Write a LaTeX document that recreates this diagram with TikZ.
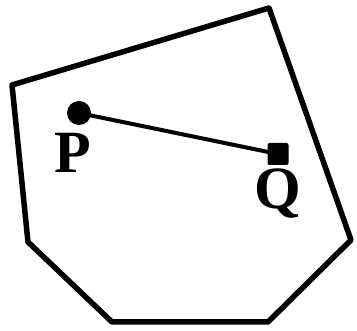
\documentclass[tikz,border=0pt]{standalone}
\usepackage{fontspec}
\setmainfont{Liberation Serif}
\begin{document}
\begin{tikzpicture}[x=1pt,y=-1pt,
  edge/.style={line width=5.5pt,line join=round,line cap=round},
  seg/.style={line width=4pt},
  lbl/.style={font=\fontsize{60}{60}\selectfont\bfseries,inner sep=0pt}]
\useasboundingbox (0,0) rectangle (357,331);
\draw[edge] (12,85) -- (269,8) -- (351,240) -- (268,322) -- (112,322) -- (28,242) -- cycle;
\node[circle,fill=black,minimum size=24pt,inner sep=0pt] (P) at (79,113) {};
\node[rectangle,fill=black,minimum width=21pt,minimum height=22pt,inner sep=0pt,rounded corners=2pt] (Q) at (278,154) {};
\draw[seg] (P.center) -- (Q.center);
\node[lbl] (lp) at (73,153) {P};
\node[lbl] (lq) at (278,194) {Q};
\end{tikzpicture}
\end{document}
